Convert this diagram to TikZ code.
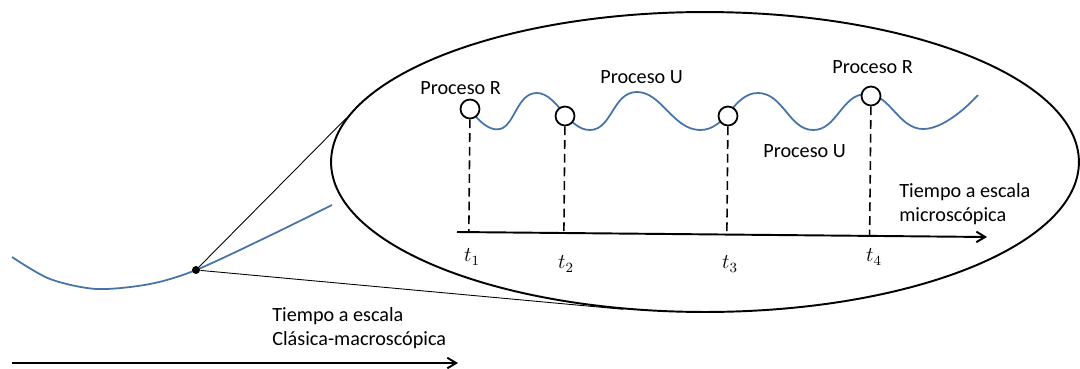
\documentclass[tikz,border=0pt]{standalone}
\usepackage{fontspec}
\setmainfont{Carlito}
\usetikzlibrary{arrows.meta, calc, shapes.geometric}
\definecolor{curve}{HTML}{4673A8}

\begin{document}
\begin{tikzpicture}[x=0.02cm, y=-0.02cm, font=\fontsize{11.5}{13.6}\selectfont,
    proc/.style={circle, draw=black, fill=white, line width=1pt, minimum size=0.38cm, inner sep=0pt},
    lbl/.style={inner sep=0pt, anchor=base west},
    timeaxis/.style={line width=1.1pt, -{Straight Barb[length=5pt, width=6pt]}}]
    \useasboundingbox (0,0) rectangle (1080,369);

    % Zoomed-in region
    \node[ellipse, draw=black, line width=1.1pt, minimum width=14.96cm, minimum height=6cm, inner sep=0pt] (zoomview) at (705,162) {};

    % Classical curve and the zoomed point
    \draw[curve, line width=1pt] plot[smooth] coordinates {(12,257) (50,279) (97,289) (150,284) (196,270) (267,237) (332,205)};
    \node[circle, fill=black, inner sep=0pt, minimum size=0.16cm] (pt) at (196,270) {};
    \draw[line width=0.5pt] (pt) -- (zoomview.173);
    \draw[line width=0.5pt] (pt) -- (zoomview.241);

    % Microscopic wave
    \draw[curve, line width=1pt] plot[smooth, tension=0.8] coordinates {(470,109) (500,129) (537,93) (590,130) (637,92) (700,130) (758,93) (813,130) (866,94) (923,129) (978,95)};

    % Microscopic time axis
    \coordinate (mi0) at (457,232);
    \coordinate (mi1) at (987,237);
    \draw[timeaxis] (mi0) -- (mi1);

    % Events on the wave
    \node[proc] (c1) at (470,109) {};
    \node[proc] (c2) at (565,116) {};
    \node[proc] (c3) at (728,116) {};
    \node[proc] (c4) at (871,96) {};

    % Drop lines to the axis
    \draw[line width=0.9pt, dash pattern=on 5pt off 2.8pt] (c1) -- ($(mi0)!(c1)!(mi1)$);
    \draw[line width=0.9pt, dash pattern=on 5pt off 2.8pt] (c2) -- ($(mi0)!(c2)!(mi1)$);
    \draw[line width=0.9pt, dash pattern=on 5pt off 2.8pt] (c3) -- ($(mi0)!(c3)!(mi1)$);
    \draw[line width=0.9pt, dash pattern=on 5pt off 2.8pt] (c4) -- ($(mi0)!(c4)!(mi1)$);

    % Labels
    \node[lbl] (pr1) at (420,94) {Proceso R};
    \node[lbl] (pu1) at (600,83) {Proceso U};
    \node[lbl] (pr2) at (832,73) {Proceso R};
    \node[lbl] (pu2) at (763,157) {Proceso U};
    \node[inner sep=0pt, align=left, anchor=north west] (micro) at (899,183) {Tiempo a escala\\microscópica};

    \node[inner sep=0pt] (t1) at (472,257) {$t_1$};
    \node[inner sep=0pt] (t2) at (566,264) {$t_2$};
    \node[inner sep=0pt] (t3) at (730,264) {$t_3$};
    \node[inner sep=0pt] (t4) at (874,257) {$t_4$};

    % Classical time axis
    \coordinate (ma0) at (12,363);
    \coordinate (ma1) at (458,363);
    \draw[timeaxis] (ma0) -- (ma1);
    \node[inner sep=0pt, align=left, anchor=north west] (macro) at (272,307) {Tiempo a escala\\Clásica-macroscópica};
\end{tikzpicture}
\end{document}
